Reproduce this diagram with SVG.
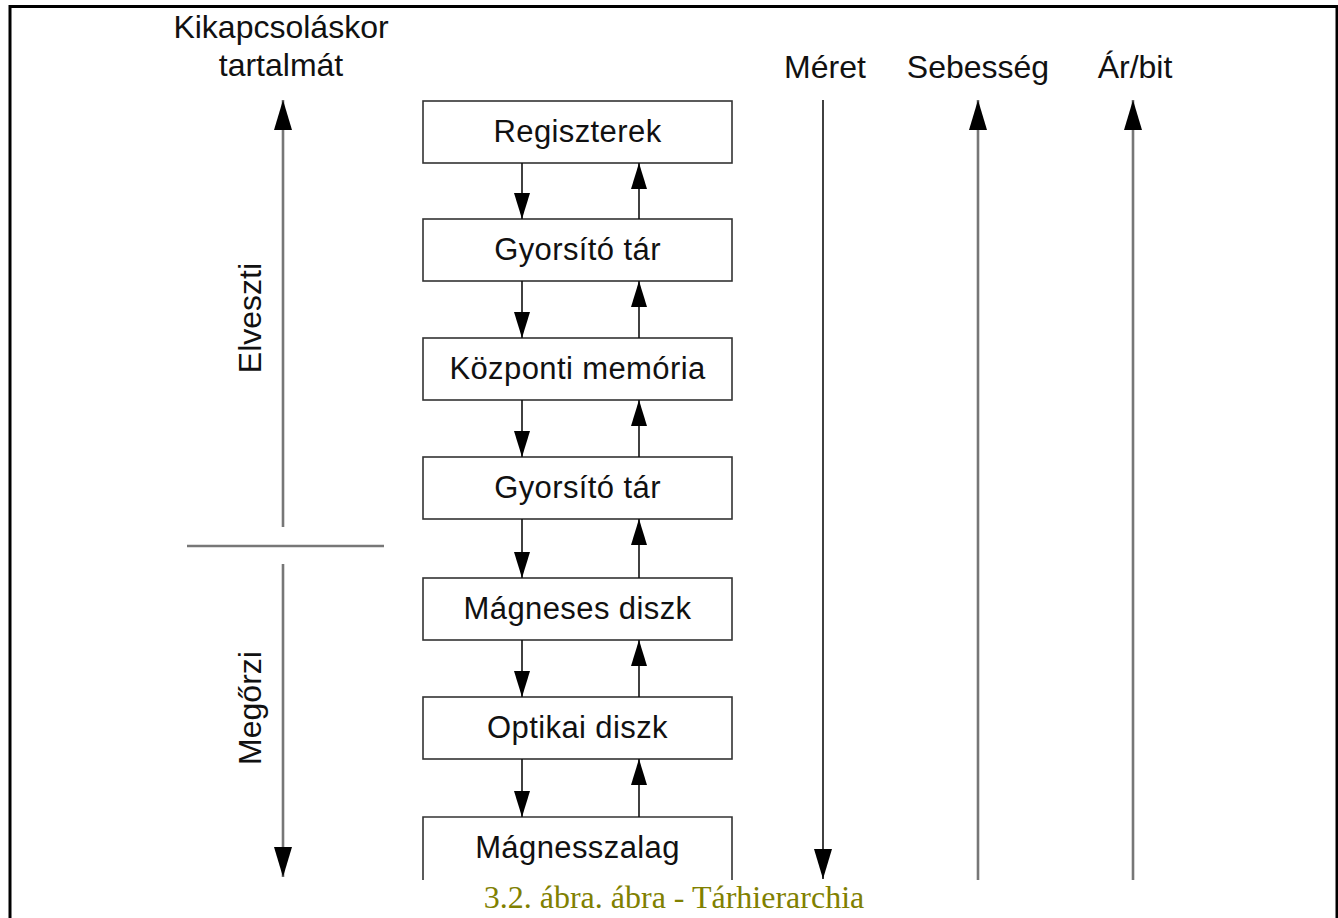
<svg xmlns="http://www.w3.org/2000/svg" width="1338" height="918" viewBox="0 0 1338 918">
  <style>
    .box { fill: #fff; stroke: #333; stroke-width: 1.6; }
    .lbl { font-family: "Liberation Sans", Arial, sans-serif; font-size: 31px; letter-spacing: 0.4px; fill: #111; text-anchor: middle; }
    .side { font-family: "Liberation Sans", Arial, sans-serif; font-size: 32px; fill: #111; text-anchor: middle; }
    .thin { stroke: #111; stroke-width: 1.6; fill: none; }
    .gray { stroke: #777; stroke-width: 2.6; fill: none; }
    .cap { font-family: "Liberation Serif", "Times New Roman", serif; font-size: 32px; fill: #808000; text-anchor: middle; }
  </style>
  <defs>
    <marker id="ah" markerUnits="userSpaceOnUse" viewBox="0 0 26 16" refX="26" refY="8" markerWidth="26" markerHeight="16" orient="auto">
      <path d="M0,0 L26,8 L0,16 Z" fill="#000"/>
    </marker>
    <marker id="ahBig" markerUnits="userSpaceOnUse" viewBox="0 0 30 18" refX="30" refY="9" markerWidth="30" markerHeight="18" orient="auto">
      <path d="M0,0 L30,9 L0,18 Z" fill="#000"/>
    </marker>
  </defs>
  <rect width="1338" height="918" fill="#fff"/>
  <!-- frame -->
  <path d="M10,918 V6.5 H1337 V918" fill="none" stroke="#000" stroke-width="3"/>

  <!-- side labels -->
  <g id="label-kikapcsolaskor">
    <text class="side" x="281" y="38">Kikapcsoláskor</text>
    <text class="side" x="281" y="76">tartalmát</text>
  </g>
  <g id="label-elveszti">
    <text class="side" transform="translate(261,318) rotate(-90)">Elveszti</text>
  </g>
  <g id="label-megorzi">
    <text class="side" transform="translate(261,708) rotate(-90)">Megőrzi</text>
  </g>
  <g id="label-meret"><text class="side" x="825" y="78">Méret</text></g>
  <g id="label-sebesseg"><text class="side" x="978" y="78">Sebesség</text></g>
  <g id="label-arbit"><text class="side" x="1135" y="78">Ár/bit</text></g>

  <!-- hierarchy boxes -->
  <g id="n-regiszterek"><rect class="box" x="423" y="101" width="309" height="62"/><text class="lbl" x="577.5" y="142">Regiszterek</text></g>
  <g id="n-gyorsito1"><rect class="box" x="423" y="219" width="309" height="62"/><text class="lbl" x="577.5" y="260">Gyorsító tár</text></g>
  <g id="n-kozponti"><rect class="box" x="423" y="338" width="309" height="62"/><text class="lbl" x="577.5" y="379">Központi memória</text></g>
  <g id="n-gyorsito2"><rect class="box" x="423" y="457" width="309" height="62"/><text class="lbl" x="577.5" y="498">Gyorsító tár</text></g>
  <g id="n-magneses"><rect class="box" x="423" y="578" width="309" height="62"/><text class="lbl" x="577.5" y="619">Mágneses diszk</text></g>
  <g id="n-optikai"><rect class="box" x="423" y="697" width="309" height="62"/><text class="lbl" x="577.5" y="738">Optikai diszk</text></g>
  <g id="n-szalag"><path class="box" d="M423,880 V817 H732 V880"/><text class="lbl" x="577.5" y="858">Mágnesszalag</text></g>

  <!-- connectors -->
  <g id="connectors">
    <g class="thin" marker-end="url(#ah)">
      <line x1="522" y1="163" x2="522" y2="219"/>
      <line x1="639" y1="219" x2="639" y2="163"/>
      <line x1="522" y1="281" x2="522" y2="338"/>
      <line x1="639" y1="338" x2="639" y2="281"/>
      <line x1="522" y1="400" x2="522" y2="457"/>
      <line x1="639" y1="457" x2="639" y2="400"/>
      <line x1="522" y1="519" x2="522" y2="578"/>
      <line x1="639" y1="578" x2="639" y2="519"/>
      <line x1="522" y1="640" x2="522" y2="697"/>
      <line x1="639" y1="697" x2="639" y2="640"/>
      <line x1="522" y1="759" x2="522" y2="817"/>
      <line x1="639" y1="817" x2="639" y2="759"/>
    </g>
    <!-- volatility axis -->
    <line class="gray" x1="283" y1="527" x2="283" y2="100" marker-end="url(#ahBig)"/>
    <line class="gray" x1="187" y1="546" x2="384" y2="546" stroke-width="2"/>
    <line class="gray" x1="283" y1="564" x2="283" y2="877" marker-end="url(#ahBig)"/>
    <!-- property axes -->
    <line class="thin" x1="823" y1="100" x2="823" y2="879" marker-end="url(#ahBig)"/>
    <line class="gray" x1="978" y1="880" x2="978" y2="100" marker-end="url(#ahBig)"/>
    <line class="gray" x1="1133" y1="880" x2="1133" y2="100" marker-end="url(#ahBig)"/>
  </g>

  <text class="cap" x="674" y="908">3.2. ábra. ábra - Tárhierarchia</text>
</svg>
